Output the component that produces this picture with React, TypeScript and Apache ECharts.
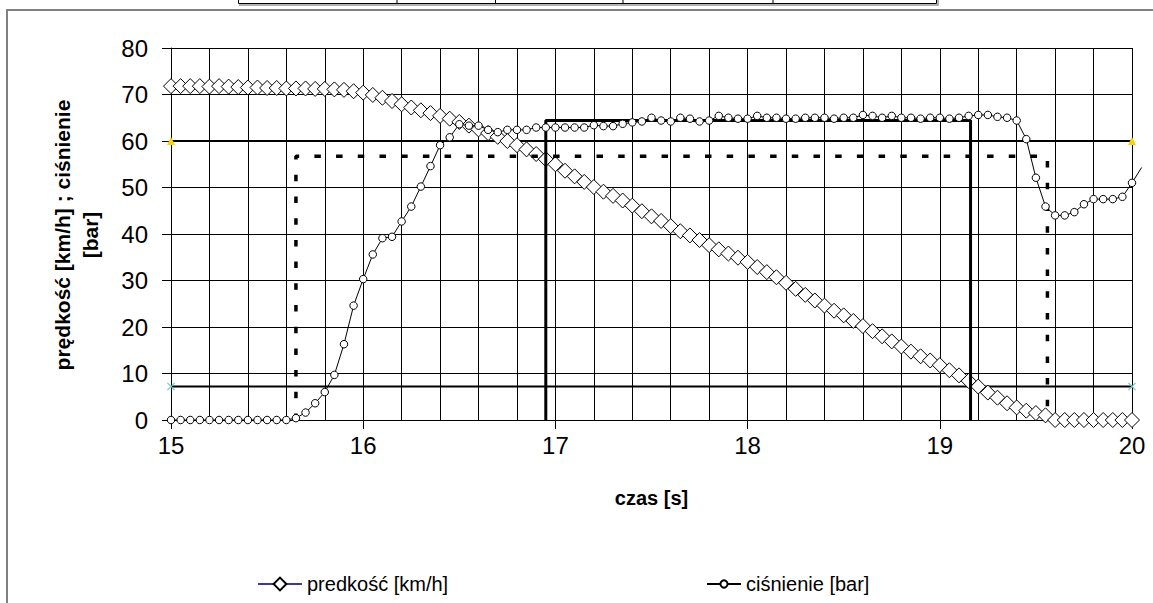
import React, { useEffect, useRef } from "react";
import * as echarts from "echarts";

const FONT = '"Liberation Sans", Arial, Helvetica, sans-serif';

const T0 = 15;
const STEP = 0.05;

const speedName = "predkość [km/h]";
const pressureName = "ciśnienie [bar]";
const xTitle = "czas [s]";
const yTitle = "prędkość [km/h] ; ciśnienie\n[bar]";

// speed [km/h], one value every 0.05 s from 15.00 s to 20.00 s
const speed = [
  71.8, 71.8, 71.8, 71.8, 71.7, 71.8, 71.7, 71.6, 71.5, 71.5,
  71.4, 71.4, 71.3, 71.3, 71.3, 71.2, 71.2, 71.1, 71.0, 70.7,
  70.4, 69.9, 69.3, 68.6, 67.9, 67.2, 66.6, 66.0, 65.4, 64.8,
  64.1, 63.3, 62.5, 61.7, 60.9, 60.0, 59.1, 58.2, 57.2, 56.1,
  55.0, 53.6, 52.4, 51.2, 50.1, 49.1, 48.2, 47.2, 46.1, 44.9,
  43.8, 42.8, 41.7, 40.6, 39.7, 38.7, 37.6, 36.7, 35.8, 34.9,
  34.0, 32.9, 31.8, 30.7, 29.5, 28.2, 26.9, 25.7, 24.6, 23.5,
  22.5, 21.3, 20.2, 19.1, 18.0, 16.9, 15.8, 14.7, 13.7, 12.8,
  11.8, 10.7, 9.6, 8.4, 7.2, 5.9, 4.8, 3.6, 2.7, 2.0,
  1.5, 1.0, 0, 0, 0, 0, 0, 0, 0, 0,
  0,
];

// pressure [bar], one value every 0.05 s from 15.00 s to 20.00 s
const pressure = [
  0, 0, 0, 0, 0, 0, 0, 0, 0, 0,
  0, 0, 0, 0.4, 1.6, 3.6, 6.0, 9.7, 16.3, 24.6,
  30.3, 35.6, 39.1, 39.4, 42.7, 45.9, 50.2, 54.6, 59.1, 60.8,
  63.6, 63.3, 63.3, 62.4, 61.9, 62.4, 62.4, 62.4, 62.9, 62.9,
  62.9, 62.9, 62.9, 62.9, 63.4, 63.2, 63.2, 63.7, 64.0, 64.2,
  65.0, 64.4, 64.2, 65.0, 64.8, 64.2, 64.4, 65.4, 65.0, 64.8,
  64.8, 65.4, 65.0, 65.0, 64.8, 64.8, 65.0, 65.0, 65.0, 64.8,
  65.0, 65.0, 65.6, 65.4, 65.0, 65.4, 65.0, 65.0, 64.8, 65.0,
  65.0, 64.8, 65.0, 65.4, 65.6, 65.6, 65.2, 65.0, 64.4, 60.4,
  52.1, 45.9, 44.0, 44.0, 44.7, 46.4, 47.5, 47.5, 47.5, 48.0,
  51.0,
];
// next pressure sample (20.05 s), lies past the axis end
const pressureNext = [20.05, 54.3];

// reference lines
const upperLine = [[15, 60], [20, 60]];
const lowerLine = [[15, 7.2], [20, 7.2]];
const dashedPulse = [[15.65, 0], [15.65, 56.7], [19.56, 56.7], [19.56, 0]];
const solidPulse = [[16.95, 0], [16.95, 64.4], [19.16, 64.4], [19.16, 0]];

const timeAt = (i: number) => Math.round((T0 + i * STEP) * 100) / 100;

const X_SYMBOL =
  "path://M0,1L1,0L5,4L9,0L10,1L6,5L10,9L9,10L5,6L1,10L0,9L4,5Z";

export default function App() {
  const ref = useRef<HTMLDivElement>(null);

  useEffect(() => {
    if (!ref.current) return;
    const chart = echarts.init(ref.current, undefined, { renderer: "svg" });

    const speedData = speed.map((v, i) => [timeAt(i), v]);
    const pressureData = pressure.map((v, i) => [timeAt(i), v]);

    const staticGraphics: any[] = [
      {
        type: "rect",
        shape: { x: 7, y: 10, width: 1170, height: 640 },
        style: { fill: "none", stroke: "#808080", lineWidth: 2 },
        z: 0,
        silent: true,
      },
      {
        type: "polyline",
        shape: { points: [[238.5, 0], [238.5, 3.5], [936.5, 3.5], [936.5, 0]] },
        style: { fill: "none", stroke: "#000", lineWidth: 1 },
        silent: true,
      },
      {
        type: "polyline",
        shape: { points: [[239, 5], [938, 5], [938, 0]] },
        style: { fill: "none", stroke: "#999", lineWidth: 1.5 },
        silent: true,
      },
      ...[397, 495.5, 623, 773].map((x) => ({
        type: "line",
        shape: { x1: x, y1: 0, x2: x, y2: 3.5 },
        style: { stroke: "#000", lineWidth: 1 },
        silent: true,
      })),
      {
        type: "text",
        x: 76,
        y: 235,
        rotation: Math.PI / 2,
        style: {
          text: yTitle,
          font: `bold 21px ${FONT}`,
          fill: "#000",
          align: "center",
          verticalAlign: "middle",
          lineHeight: 28,
        },
        silent: true,
      },
    ];

    const option: any = {
      animation: false,
      backgroundColor: "#ffffff",
      textStyle: { fontFamily: FONT },
      grid: { left: 171, top: 48, width: 961, height: 372, containLabel: false },
      xAxis: {
        type: "value",
        min: 15,
        max: 20,
        interval: 1,
        axisLine: { show: true, onZero: false, lineStyle: { color: "#000", width: 1 } },
        axisTick: { show: true, length: 9, lineStyle: { color: "#000", width: 1 } },
        axisLabel: { fontSize: 24, color: "#000", margin: 13, fontFamily: FONT },
        splitLine: { show: true, lineStyle: { color: "#000", width: 1 } },
        minorTick: { show: false, splitNumber: 5 },
        minorSplitLine: { show: true, lineStyle: { color: "#000", width: 1 } },
        name: xTitle,
        nameLocation: "middle",
        nameGap: 68,
        nameTextStyle: { fontSize: 20, fontWeight: "bold", color: "#000", fontFamily: FONT },
      },
      yAxis: {
        type: "value",
        min: 0,
        max: 80,
        interval: 10,
        axisLine: { show: true, lineStyle: { color: "#000", width: 1 } },
        axisTick: { show: true, length: 9, lineStyle: { color: "#000", width: 1 } },
        axisLabel: {
          fontSize: 24,
          color: "#000",
          margin: 23,
          fontFamily: FONT,
          padding: [6, 0, 0, 0],
        },
        splitLine: { show: true, lineStyle: { color: "#000", width: 1 } },
      },
      legend: [
        {
          data: [speedName],
          left: 252,
          top: 569,
          itemWidth: 44,
          itemHeight: 16,
          itemGap: 4,
          textStyle: { fontSize: 20, color: "#000", fontFamily: FONT },
        },
        {
          data: [pressureName],
          left: 701,
          top: 569,
          itemWidth: 34,
          itemHeight: 9,
          textStyle: { fontSize: 20, color: "#000", fontFamily: FONT },
        },
      ],
      graphic: staticGraphics,
      series: [
        {
          name: "upper",
          type: "line",
          data: upperLine,
          symbol: "triangle",
          symbolSize: 8,
          itemStyle: { color: "#FFD200" },
          lineStyle: { color: "#000", width: 2 },
          z: 2,
        },
        {
          name: "lower",
          type: "line",
          data: lowerLine,
          symbol: X_SYMBOL,
          symbolSize: 8,
          itemStyle: { color: "#66CCCC" },
          lineStyle: { color: "#000", width: 2 },
          z: 2,
        },
        {
          name: speedName,
          type: "line",
          data: speedData,
          symbol: "diamond",
          symbolSize: 15,
          itemStyle: { color: "#ffffff", borderColor: "#000", borderWidth: 1 },
          lineStyle: { color: "#3a3a9a", width: 1 },
          z: 3,
        },
        {
          name: "dashed",
          type: "line",
          data: dashedPulse,
          symbol: "none",
          lineStyle: { color: "#000", width: 3.5, type: [6.5, 15.2] },
          z: 4,
        },
        {
          name: "solid",
          type: "line",
          data: solidPulse,
          symbol: "none",
          lineStyle: { color: "#000", width: 3 },
          z: 4,
        },
        {
          name: pressureName,
          type: "line",
          data: pressureData,
          symbol: "circle",
          symbolSize: 7.5,
          itemStyle: { color: "#ffffff", borderColor: "#000", borderWidth: 1 },
          lineStyle: { color: "#000", width: 1 },
          z: 5,
        },
      ],
    };

    chart.setOption(option);

    // segment leaving the plot towards the next sample, through the chart's own scale
    const last = pressureData[pressureData.length - 1];
    const p0 = chart.convertToPixel({ gridIndex: 0 }, last) as number[];
    const p1 = chart.convertToPixel({ gridIndex: 0 }, pressureNext) as number[];
    if (p0 && p1) {
      chart.setOption({
        graphic: [
          ...staticGraphics,
          {
            type: "line",
            shape: { x1: p0[0], y1: p0[1], x2: p1[0], y2: p1[1] },
            style: { stroke: "#000", lineWidth: 1 },
            z: 4,
            silent: true,
          },
        ],
      });
    }

    return () => chart.dispose();
  }, []);

  return (
    <div
      ref={ref}
      style={{ position: "fixed", left: 0, top: 0, width: 1153, height: 603, background: "#fff" }}
    />
  );
}
